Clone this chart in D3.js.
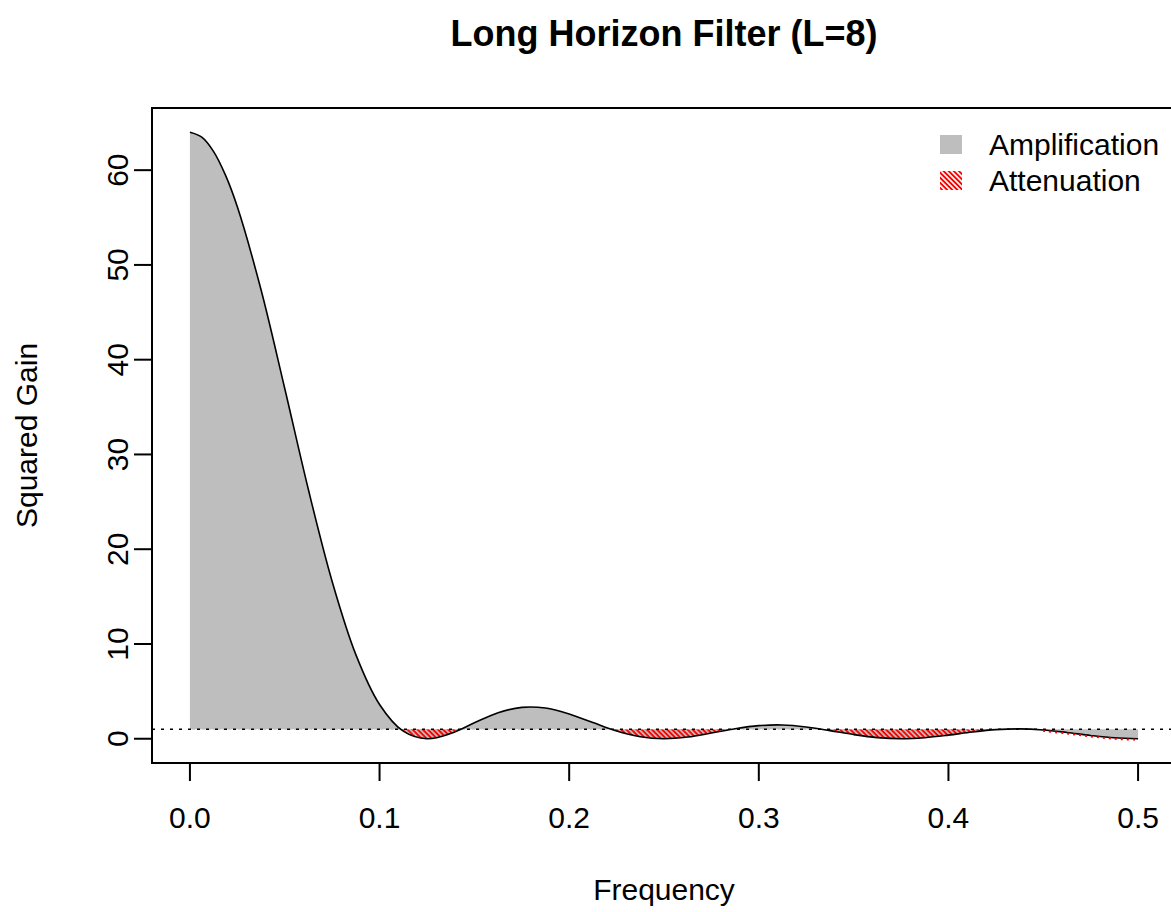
<!DOCTYPE html>
<html>
<head>
<meta charset="utf-8">
<script src="https://cdn.jsdelivr.net/npm/d3@7"></script>
<style>
body{margin:0;background:#fff;}
text{font-family:"Liberation Sans",Arial,Helvetica,sans-serif;fill:#000;}
</style>
</head>
<body>
<svg id="chart" width="1171" height="912"></svg>
<script>
// frequency readings: denser near the peak, then every 1/80
var freq = [0, 0.00625, 0.0125, 0.01875].concat(d3.range(2, 41).map(function(k){ return k / 80; }));
// squared gain
var gain = [64, 63.48, 61.96, 59.47, 56.13, 47.38, 36.96, 26.27, 16.60, 8.88, 3.62, 0.80,
	0, 0.55, 1.68, 2.74, 3.31, 3.24, 2.62, 1.71, 0.82, 0.21,
	0, 0.18, 0.60, 1.06, 1.38, 1.45, 1.24, 0.86, 0.44, 0.12,
	0, 0.11, 0.38, 0.71, 0.96, 1.04, 0.93, 0.66, 0.35, 0.10, 0];
var xTicks = [0, 0.1, 0.2, 0.3, 0.4, 0.5];
var yTicks = [0, 10, 20, 30, 40, 50, 60];
var legendLabels = ["Amplification", "Attenuation"];

var data = freq.map(function(f, i){ return {f: f, g: gain[i]}; });

var svg = d3.select("#chart");
var pl = 152, pr = 1176, pt = 108, pb = 763;

var x = d3.scaleLinear().domain([-0.02, 0.52]).range([pl, pr]);
var y = d3.scaleLinear().domain([-2.56, 66.56]).range([pb, pt]);

var defs = svg.append("defs");
var pat = defs.append("pattern").attr("id", "hatch")
	.attr("patternUnits", "userSpaceOnUse")
	.attr("width", 3.6).attr("height", 3.6)
	.attr("patternTransform", "rotate(45)");
pat.append("rect").attr("width", 3.6).attr("height", 1.9).attr("fill", "#ff0000");

defs.append("clipPath").attr("id", "below")
	.append("rect").attr("x", pl).attr("y", y(1))
	.attr("width", x(0.445) - pl).attr("height", pb - y(1));
defs.append("clipPath").attr("id", "plot")
	.append("rect").attr("x", pl).attr("y", pt)
	.attr("width", pr - pl).attr("height", pb - pt);

var curve = d3.curveCatmullRom.alpha(0.5);
var area = d3.area()
	.x(function(d){ return x(d.f); })
	.y0(y(1))
	.y1(function(d){ return y(d.g); })
	.curve(curve);
var line = d3.line()
	.x(function(d){ return x(d.f); })
	.y(function(d){ return y(d.g); })
	.curve(curve);

var g = svg.append("g").attr("clip-path", "url(#plot)");
g.append("path").datum(data).attr("d", area).attr("fill", "#bebebe");
g.append("path").datum(data).attr("d", area).attr("fill", "url(#hatch)")
	.attr("clip-path", "url(#below)");
g.append("line").attr("x1", pl).attr("x2", pr)
	.attr("y1", y(1)).attr("y2", y(1))
	.attr("stroke", "#000").attr("stroke-width", 1.5)
	.attr("stroke-dasharray", "3,6");
g.append("path").datum(data).attr("d", line)
	.attr("fill", "none").attr("stroke", "#000").attr("stroke-width", 1.6);
// thin hatch remnant on the last dip
g.append("path").datum(data.filter(function(d){ return d.f >= 0.44; }))
	.attr("d", line).attr("transform", "translate(0,1)")
	.attr("fill", "none").attr("stroke", "#ff0000").attr("stroke-width", 2)
	.attr("stroke-dasharray", "2,4");

// box
svg.append("rect").attr("x", pl).attr("y", pt)
	.attr("width", pr - pl).attr("height", pb - pt)
	.attr("fill", "none").attr("stroke", "#000").attr("stroke-width", 2);

// x axis
var xa = svg.append("g");
xa.append("line").attr("x1", x(0)).attr("x2", x(0.5))
	.attr("y1", pb).attr("y2", pb).attr("stroke", "#000").attr("stroke-width", 2);
xa.selectAll("line.tick").data(xTicks).enter().append("line").attr("class", "tick")
	.attr("x1", x).attr("x2", x).attr("y1", pb).attr("y2", pb + 18)
	.attr("stroke", "#000").attr("stroke-width", 2);
xa.selectAll("text").data(xTicks).enter().append("text")
	.attr("x", x).attr("y", 828).attr("text-anchor", "middle")
	.attr("font-size", 30).text(d3.format(".1f"));

// y axis
var ya = svg.append("g");
ya.append("line").attr("x1", pl).attr("x2", pl)
	.attr("y1", y(0)).attr("y2", y(60)).attr("stroke", "#000").attr("stroke-width", 2);
ya.selectAll("line.tick").data(yTicks).enter().append("line").attr("class", "tick")
	.attr("x1", pl).attr("x2", pl - 18)
	.attr("y1", y).attr("y2", y)
	.attr("stroke", "#000").attr("stroke-width", 2);
ya.selectAll("text").data(yTicks).enter().append("text")
	.attr("transform", function(d){ return "translate(128," + y(d) + ") rotate(-90)"; })
	.attr("text-anchor", "middle").attr("font-size", 30).text(function(d){ return d; });

// titles
svg.append("text").attr("x", (pl + pr) / 2).attr("y", 46)
	.attr("text-anchor", "middle").attr("font-size", 36).attr("font-weight", "bold")
	.text("Long Horizon Filter (L=8)");
svg.append("text").attr("x", (pl + pr) / 2).attr("y", 900)
	.attr("text-anchor", "middle").attr("font-size", 30).text("Frequency");
svg.append("text")
	.attr("transform", "translate(37," + (pt + pb) / 2 + ") rotate(-90)")
	.attr("text-anchor", "middle").attr("font-size", 30).text("Squared Gain");

// legend
var lg = svg.append("g");
lg.append("rect").attr("x", 940).attr("y", 135).attr("width", 22).attr("height", 19)
	.attr("fill", "#bebebe");
lg.append("rect").attr("x", 940).attr("y", 171).attr("width", 22).attr("height", 19)
	.attr("fill", "url(#hatch)");
lg.selectAll("text").data(legendLabels).enter().append("text")
	.attr("x", 989).attr("y", function(d, i){ return 155 + i * 36; })
	.attr("font-size", 30).text(function(d){ return d; });
</script>
</body>
</html>
